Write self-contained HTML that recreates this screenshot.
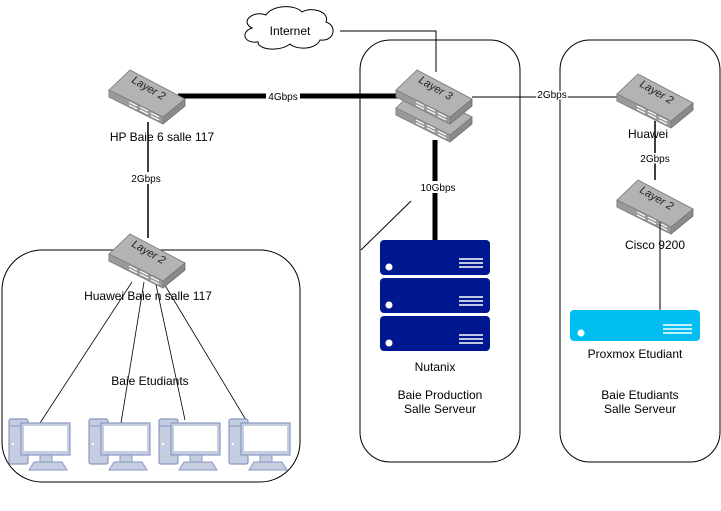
<!DOCTYPE html>
<html><head><meta charset="utf-8"><style>
html,body{margin:0;padding:0;background:#fff;}
svg{display:block;font-family:"Liberation Sans",sans-serif;}
</style></head><body>
<svg width="721" height="511" viewBox="0 0 721 511" xmlns="http://www.w3.org/2000/svg">
<defs>
<g id="sw">
  <polygon points="0,0 0,7 54,34 76,16 76,9 54,27" fill="#8a8a8a" stroke="#6d6d6d" stroke-width="0.8"/>
  <polygon points="0,0 21,-20 76,9 54,27" fill="#b3b3b3" stroke="#777" stroke-width="0.8"/>
  <polygon points="0,0 54,27 54,34 0,7" fill="#9a9a9a" stroke="#777" stroke-width="0.6"/>
  <g stroke="#fff" stroke-width="1.2">
    <line x1="20" y1="12" x2="28" y2="16"/><line x1="20" y1="15" x2="28" y2="19"/>
    <line x1="31" y1="17" x2="39" y2="21"/><line x1="31" y1="20" x2="39" y2="24"/>
    <line x1="42" y1="23" x2="50" y2="27"/><line x1="42" y1="26" x2="50" y2="30"/>
  </g>
</g>
<g id="pc">
  <rect x="0" y="0" width="19" height="45" rx="2" fill="#c5cde0" stroke="#8a98c4" stroke-width="1.2"/>
  <line x1="0" y1="7" x2="12" y2="7" stroke="#8a98c4"/>
  <rect x="3" y="24" width="2" height="2" fill="#fff"/>
  <rect x="12" y="4" width="49" height="32" fill="#c5cde0" stroke="#8a98c4" stroke-width="1.2"/>
  <rect x="15" y="7" width="43" height="25" fill="#fff"/>
  <rect x="31" y="36" width="12" height="7" fill="#c5cde0" stroke="#8a98c4"/>
  <polygon points="20,51 25,43 53,43 58,51" fill="#c5cde0" stroke="#8a98c4"/>
</g>
<g id="srv">
  <rect x="0" y="0" width="110" height="35" rx="4" fill="#00188f"/>
  <circle cx="9" cy="27" r="3.5" fill="#fff"/>
  <g stroke="#fff" stroke-width="1.5"><line x1="79" y1="19" x2="103" y2="19"/><line x1="79" y1="23" x2="103" y2="23"/><line x1="79" y1="27" x2="103" y2="27"/></g>
</g>
</defs>

<!-- containers -->
<rect x="2" y="250" width="298" height="232" rx="40" fill="none" stroke="#000"/>
<rect x="360" y="40" width="160" height="422" rx="30" fill="none" stroke="#000"/>
<rect x="560" y="40" width="160" height="422" rx="30" fill="none" stroke="#000"/>

<!-- cloud -->
<path d="M252,28 C240,22 252,10 266,15 C272,5 295,4 302,12 C312,6 330,12 326,22 C338,26 334,42 320,40 C316,50 296,50 290,44 C280,52 258,50 258,42 C244,44 240,32 252,28 Z" fill="#fff" stroke="#000"/>
<text x="290" y="35" font-size="12" text-anchor="middle">Internet</text>
<polyline points="340,31 436,31 436,72" fill="none" stroke="#000"/>

<!-- links -->
<line x1="178" y1="96" x2="400" y2="96" stroke="#000" stroke-width="5"/>
<rect x="266" y="90" width="34" height="12" fill="#fff"/>
<text x="283" y="100" font-size="10" text-anchor="middle">4Gbps</text>
<line x1="472" y1="97" x2="620" y2="97" stroke="#000"/>
<text x="552" y="98" font-size="10" text-anchor="middle" style="paint-order:stroke" stroke="#fff" stroke-width="3">2Gbps</text>
<line x1="148" y1="122" x2="148" y2="238" stroke="#000" stroke-width="1.5"/>
<rect x="128" y="172" width="40" height="12" fill="#fff"/>
<text x="146" y="182" font-size="10" text-anchor="middle">2Gbps</text>
<line x1="655" y1="121" x2="655" y2="180" stroke="#000" stroke-width="1.5"/>
<text x="655" y="162" font-size="10" text-anchor="middle" style="paint-order:stroke" stroke="#fff" stroke-width="3">2Gbps</text>
<line x1="660" y1="222" x2="660" y2="321" stroke="#000"/>
<line x1="435" y1="140" x2="435" y2="240" stroke="#000" stroke-width="5"/>
<rect x="418" y="181" width="40" height="12" fill="#fff"/>
<text x="438" y="191" font-size="10" text-anchor="middle">10Gbps</text>
<line x1="361" y1="250" x2="411" y2="201" stroke="#000"/>

<!-- PC lines -->
<g stroke="#000" stroke-width="0.8">
<line x1="132" y1="282" x2="40" y2="423"/>
<line x1="144" y1="282" x2="121" y2="423"/>
<line x1="155" y1="280" x2="185" y2="420"/>
<line x1="163" y1="282" x2="246" y2="420"/>
</g>

<!-- switches -->
<g transform="translate(109,90)"><use href="#sw"/><text x="0" y="0" font-size="11" font-style="italic" fill="#222" transform="translate(22,-8) rotate(30)">Layer 2</text></g>
<g transform="translate(109,254)"><use href="#sw"/><text font-size="11" font-style="italic" fill="#222" transform="translate(22,-8) rotate(30)">Layer 2</text></g>
<g transform="translate(396,108)"><use href="#sw"/></g>
<g transform="translate(396,90)"><use href="#sw"/><text font-size="11" font-style="italic" fill="#222" transform="translate(22,-8) rotate(30)">Layer 3</text></g>
<g transform="translate(617,94)"><use href="#sw"/><text font-size="11" font-style="italic" fill="#222" transform="translate(22,-8) rotate(30)">Layer 2</text></g>
<g transform="translate(617,200)"><use href="#sw"/><text font-size="11" font-style="italic" fill="#222" transform="translate(22,-8) rotate(30)">Layer 2</text></g>
<line x1="660" y1="222" x2="660" y2="240" stroke="#000"/>

<!-- servers -->
<use href="#srv" x="380" y="240"/>
<use href="#srv" x="380" y="278"/>
<use href="#srv" x="380" y="316"/>
<rect x="570" y="310" width="130" height="31" rx="4" fill="#00bef2"/>
<circle cx="581" cy="333" r="3.5" fill="#fff"/>
<g stroke="#fff" stroke-width="1.5"><line x1="663" y1="325" x2="692" y2="325"/><line x1="663" y1="329" x2="692" y2="329"/><line x1="663" y1="333" x2="692" y2="333"/></g>

<!-- PCs -->
<use href="#pc" x="9" y="419"/>
<use href="#pc" x="89" y="419"/>
<use href="#pc" x="159" y="419"/>
<use href="#pc" x="229" y="419"/>

<!-- labels -->
<g font-size="12" text-anchor="middle" fill="#000">
<text x="162" y="141">HP Baie  6 salle 117</text>
<text x="148" y="300">Huawei Baie n salle 117</text>
<text x="150" y="385">Baie Etudiants</text>
<text x="435" y="371">Nutanix</text>
<text x="440" y="399">Baie Production</text>
<text x="440" y="413">Salle Serveur</text>
<text x="648" y="138">Huawei</text>
<text x="655" y="249">Cisco 9200</text>
<text x="635" y="358">Proxmox Etudiant</text>
<text x="640" y="399">Baie Etudiants</text>
<text x="640" y="413">Salle Serveur</text>
</g>
</svg>
</body></html>
